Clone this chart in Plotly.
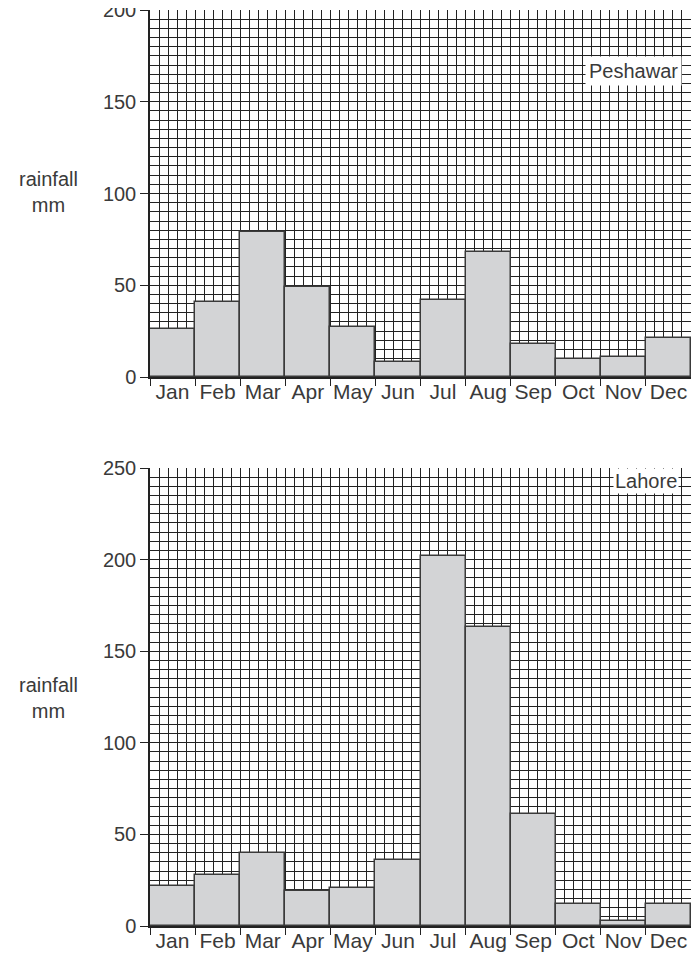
import plotly.graph_objects as go

months = ["Jan", "Feb", "Mar", "Apr", "May", "Jun", "Jul", "Aug", "Sep", "Oct", "Nov", "Dec"]
peshawar = [26, 41, 79, 49, 27, 8, 42, 68, 18, 10, 11, 21]
lahore = [22, 28, 40, 19, 21, 36, 202, 163, 61, 12, 3, 12]
pesh_ticks = [0, 50, 100, 150, 200]
lah_ticks = [0, 50, 100, 150, 200, 250]

xpos = list(range(len(months)))
bounds = [i - 0.5 for i in range(len(months) + 1)]

FONT = "Liberation Sans, Arial, sans-serif"
TXT = "#3a3a3a"
GRID = "#222222"
GW = 1.4
BAR_FILL = "#d3d4d6"
BAR_LINE = "#3a3a3a"

# the page body has an 8px margin; figure coords = screen coords - 8
W, H = 683, 947

fig = go.Figure()
fig.add_trace(go.Bar(x=xpos, y=peshawar, xaxis="x", yaxis="y",
                     marker=dict(color=BAR_FILL, line=dict(color=BAR_LINE, width=1.5)),
                     width=1.0, showlegend=False))
fig.add_trace(go.Bar(x=xpos, y=lahore, xaxis="x2", yaxis="y2",
                     marker=dict(color=BAR_FILL, line=dict(color=BAR_LINE, width=1.5)),
                     width=1.0, showlegend=False))
fig.add_trace(go.Scatter(x=[], y=[], xaxis="x3", yaxis="y", showlegend=False, hoverinfo="skip"))
fig.add_trace(go.Scatter(x=[], y=[], xaxis="x4", yaxis="y2", showlegend=False, hoverinfo="skip"))

xdom = [142 / W, 1.0]
ydom1 = [1 - 369 / H, 1 - 2 / H]
ydom2 = [1 - 918 / H, 1 - 460 / H]

def xbase(anchor):
    return dict(
        domain=xdom, range=[-0.5, 11.5], anchor=anchor, automargin=False,
        tickmode="array", tickvals=bounds, ticktext=[""] * len(bounds),
        ticks="outside", ticklen=7, tickwidth=1.3, tickcolor="#222",
        showline=True, linecolor="#222", linewidth=1.5,
        showgrid=True, gridcolor=GRID, gridwidth=GW, zeroline=False,
        minor=dict(tickmode="linear", tick0=-0.5, dtick=0.2, showgrid=True,
                   gridcolor=GRID, gridwidth=GW, ticks=""),
        fixedrange=True,
    )

def xlabels(over, anchor):
    return dict(
        overlaying=over, anchor=anchor, range=[-0.5, 11.5], automargin=False,
        tickmode="array", tickvals=xpos, ticktext=months, ticks="",
        showgrid=False, showline=False, zeroline=False, ticklabeloverflow="allow",
        tickfont=dict(family=FONT, size=21, color=TXT), side="bottom",
    )

def ybase(dom, anchor, rng, tv):
    return dict(
        domain=dom, range=rng, anchor=anchor, automargin=False,
        tickmode="array", tickvals=tv, ticklabeloverflow="allow",
        ticks="outside", ticklen=8, tickwidth=1.3, tickcolor="#222",
        showline=True, linecolor="#222", linewidth=1.5,
        showgrid=True, gridcolor=GRID, gridwidth=GW, zeroline=False,
        minor=dict(tickmode="linear", tick0=0, dtick=5, showgrid=True,
                   gridcolor=GRID, gridwidth=GW, ticks=""),
        tickfont=dict(family=FONT, size=20, color=TXT),
        fixedrange=True,
    )

fig.update_layout(
    width=W, height=H,
    margin=dict(l=0, r=0, t=0, b=0, autoexpand=False),
    paper_bgcolor="white", plot_bgcolor="white",
    bargap=0,
    xaxis=xbase("y"),
    xaxis2=xbase("y2"),
    xaxis3=xlabels("x", "y"),
    xaxis4=xlabels("x2", "y2"),
    yaxis=ybase(ydom1, "x", [0, 200], pesh_ticks),
    yaxis2=ybase(ydom2, "x2", [0, 250], lah_ticks),
    annotations=[
        dict(text="rainfall<br>mm", xref="paper", yref="paper", x=40 / W, y=1 - 184 / H,
             xanchor="center", yanchor="middle",
             showarrow=False, font=dict(family=FONT, size=20, color=TXT)),
        dict(text="rainfall<br>mm", xref="paper", yref="paper", x=40 / W, y=1 - 690 / H,
             xanchor="center", yanchor="middle",
             showarrow=False, font=dict(family=FONT, size=20, color=TXT)),
        dict(text="Peshawar", xref="x", yref="y", x=10.22, y=167,
             showarrow=False, bgcolor="white", borderpad=3,
             font=dict(family=FONT, size=20, color=TXT)),
        dict(text="Lahore", xref="x2", yref="y2", x=10.5, y=243,
             showarrow=False, bgcolor="white", borderpad=1,
             font=dict(family=FONT, size=20, color=TXT)),
    ],
)

fig.write_html("out.html")
